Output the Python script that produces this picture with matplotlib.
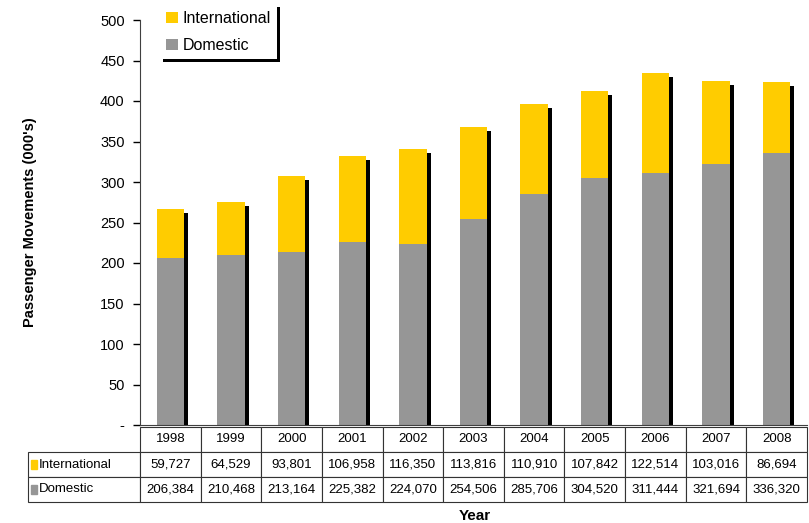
import matplotlib
matplotlib.use("Agg")
import matplotlib.pyplot as plt
import matplotlib.transforms as mtransforms
from matplotlib.patches import Rectangle
import numpy as np

plt.rcParams['font.family'] = ['Liberation Sans', 'DejaVu Sans']

years = ['1998', '1999', '2000', '2001', '2002', '2003', '2004', '2005', '2006', '2007', '2008']
international = [59727, 64529, 93801, 106958, 116350, 113816, 110910, 107842, 122514, 103016, 86694]
domestic = [206384, 210468, 213164, 225382, 224070, 254506, 285706, 304520, 311444, 321694, 336320]
yticks = [0, 50, 100, 150, 200, 250, 300, 350, 400, 450, 500]
ytick_labels = ['-', '50', '100', '150', '200', '250', '300', '350', '400', '450', '500']

yellow = '#FFCC00'
grey = '#969696'

dom = np.array(domestic) / 1000.0
intl = np.array(international) / 1000.0
x = np.arange(len(years))

fig = plt.figure(figsize=(8.09, 5.23), dpi=100)
ax = fig.add_axes([140/809, 1-425/523, 667/809, 405/523])

w = 0.45
# black drop shadow behind bars
shadow = mtransforms.offset_copy(ax.transData, fig=fig, x=4, y=-4, units='dots')
ax.bar(x, dom + intl, w, color='black', transform=shadow, zorder=1)
ax.bar(x, dom, w, color=grey, zorder=2, label='Domestic')
ax.bar(x, intl, w, bottom=dom, color=yellow, zorder=2, label='International')

ax.set_xlim(-0.5, len(years) - 0.5)
ax.set_ylim(0, 500)
ax.set_yticks(yticks)
ax.set_yticklabels(ytick_labels, fontsize=10.5)
ax.tick_params(axis='y', direction='out', length=5, width=1, pad=6)
ax.set_xticks([])
for s in ['top', 'right']:
    ax.spines[s].set_visible(False)
ax.spines['left'].set_color('#404040')
ax.spines['bottom'].set_color('#404040')

ax.set_ylabel("Passenger Movements (000's)", fontsize=10.5, fontweight='bold')
ax.yaxis.set_label_coords(-0.155, 0.5)

# legend
h, l = ax.get_legend_handles_labels()
leg = fig.legend(h[::-1], l[::-1], loc='upper left', bbox_to_anchor=(152/809, 1.0065),
                 fontsize=11.5, handlelength=0.7, handleheight=0.7, handletextpad=0.3,
                 labelspacing=0.75, borderpad=0.4, fancybox=False,
                 shadow={'color': 'black', 'alpha': 1})
leg.get_frame().set_edgecolor('white')
leg.get_frame().set_linewidth(0)

# data table
cells = [[''] + years,
         ['International'] + [f'{v:,}' for v in international],
         ['Domestic'] + [f'{v:,}' for v in domestic]]
lab_w = 112 / 667.0
col_w = 1.0 / len(years)
tab = ax.table(cellText=cells, colWidths=[lab_w] + [col_w] * len(years),
               cellLoc='center', bbox=[-lab_w, -77/405, 1 + lab_w, 75/405])
tab.auto_set_font_size(False)
tab.set_fontsize(9.5)
for (r, c), cell in tab.get_celld().items():
    cell.set_linewidth(0.8)
    cell.set_edgecolor('#333333')
    if c == 0:
        cell.get_text().set_ha('left')
        cell._loc = 'left'
        cell.PAD = 0.1
tab[0, 0].visible_edges = 'open'

# colour keys in the table row labels
fig.add_artist(Rectangle((31/809, 1-469/523), 6/809, 9/523, color=yellow, transform=fig.transFigure))
fig.add_artist(Rectangle((31/809, 1-494/523), 6/809, 9/523, color=grey, transform=fig.transFigure))

fig.text(475/809, 1-516/523, 'Year', fontsize=11, fontweight='bold', ha='center', va='center')

fig.savefig('out.png', dpi=100)
